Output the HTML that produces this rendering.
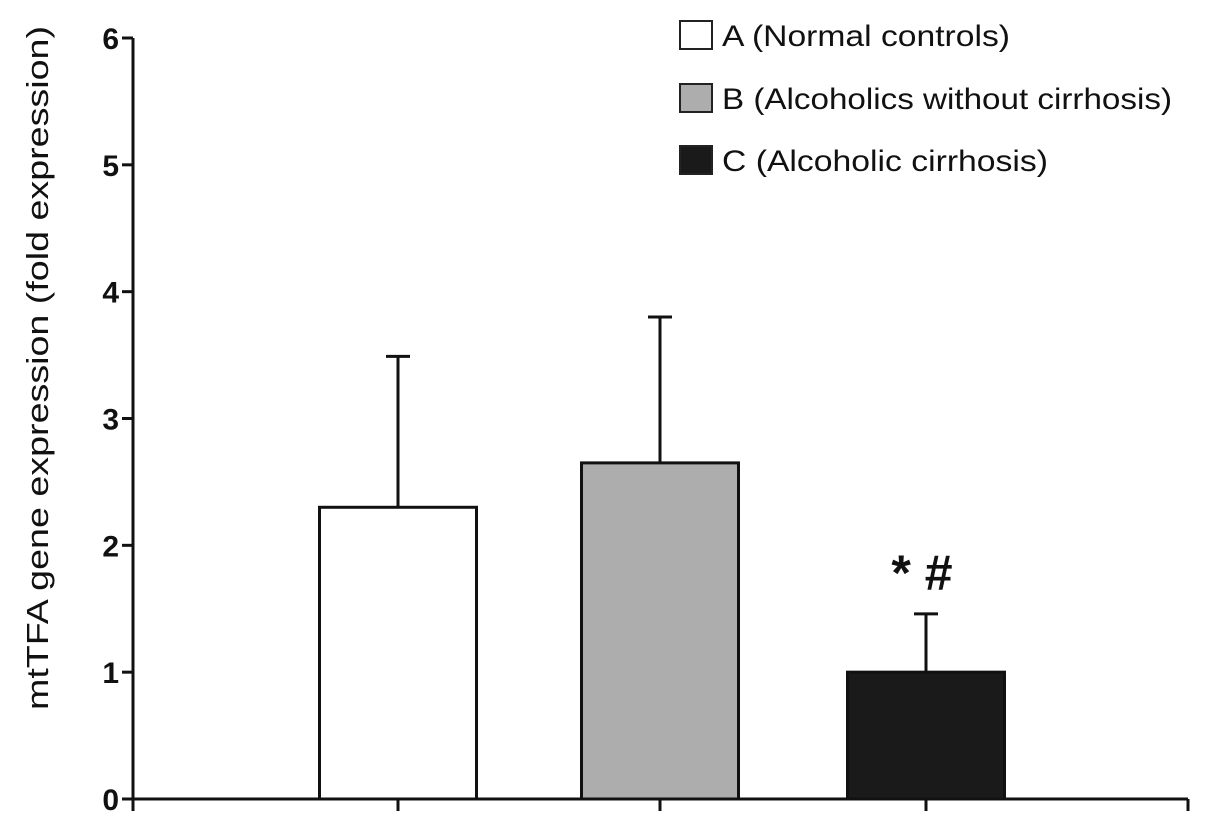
<!DOCTYPE html>
<html><head><meta charset="utf-8"><style>
html,body{margin:0;padding:0;background:#fff;}
svg{display:block;font-family:"Liberation Sans",Arial,sans-serif;}
</style></head><body>
<svg id="chart" width="1205" height="827" viewBox="0 0 1205 827">
<g id="axes"></g><g id="bars"></g>
<text transform="translate(48,368) rotate(-90)" text-anchor="middle" font-size="31" textLength="684" lengthAdjust="spacingAndGlyphs" fill="#111">mtTFA gene expression (fold expression)</text>
<text x="922" y="590" text-anchor="middle" font-size="50" font-weight="bold" fill="#111">* #</text>
<g>
<rect x="680" y="21" width="32" height="28" fill="#fff" stroke="#222" stroke-width="2"/>
<text x="722" y="46" font-size="30" textLength="288" lengthAdjust="spacingAndGlyphs" fill="#111">A (Normal controls)</text>
<rect x="680" y="84" width="32" height="28" fill="#adadad" stroke="#222" stroke-width="2"/>
<text x="722" y="109" font-size="30" textLength="450" lengthAdjust="spacingAndGlyphs" fill="#111">B (Alcoholics without cirrhosis)</text>
<rect x="680" y="146" width="32" height="28" fill="#1a1a1a" stroke="#222" stroke-width="2"/>
<text x="722" y="171" font-size="30" textLength="326" lengthAdjust="spacingAndGlyphs" fill="#111">C (Alcoholic cirrhosis)</text>
</g>
</svg>
<script>
const categories=["A","B","C"];
const means=[2.30,2.65,1.00];
const errors=[1.19,1.15,0.46];
const yTicks=[0,1,2,3,4,5,6];
const fills=["#ffffff","#adadad","#1a1a1a"];
const NS="http://www.w3.org/2000/svg";
const y0=799,y6=38,xL=133,xR=1188;
const yS=v=>y0-(y0-y6)*v/6;
const centers=[398,660,926];
const bw=157;
function mk(t,a,p){const e=document.createElementNS(NS,t);for(const k in a)e.setAttribute(k,a[k]);p.appendChild(e);return e;}
const ax=document.getElementById('axes'),bg=document.getElementById('bars');
const ya=mk('line',{x1:xL,y1:y6,x2:xL,y2:y0+1,stroke:'#111','stroke-width':3},ax);

const xa=mk('line',{x1:xL-11,y1:y0,x2:xR,y2:y0,stroke:'#111','stroke-width':3},ax);

yTicks.forEach(v=>{
 const t=mk('line',{x1:xL-11,y1:yS(v),x2:xL,y2:yS(v),stroke:'#111','stroke-width':3},ax);
 
 const l=mk('text',{x:xL-14,y:yS(v)+11,'text-anchor':'end','font-size':30,'font-weight':'bold',fill:'#111'},ax);
 l.textContent=v;
 
});
[xL,...centers,xR].forEach(x=>{
 const t=mk('line',{x1:x,y1:y0,x2:x,y2:y0+12,stroke:'#111','stroke-width':3},ax);
 
});
categories.forEach((c,i)=>{
 const cx=centers[i];
 const e=mk('line',{x1:cx,y1:yS(means[i]),x2:cx,y2:yS(means[i]+errors[i]),stroke:'#111','stroke-width':3},bg);
 
 const cap=mk('line',{x1:cx-12,y1:yS(means[i]+errors[i]),x2:cx+12,y2:yS(means[i]+errors[i]),stroke:'#111','stroke-width':3},bg);
 
 const r=mk('rect',{x:cx-bw/2,y:yS(means[i]),width:bw,height:y0-yS(means[i]),fill:fills[i],stroke:'#111','stroke-width':3},bg);
 
});
</script>
</body></html>
